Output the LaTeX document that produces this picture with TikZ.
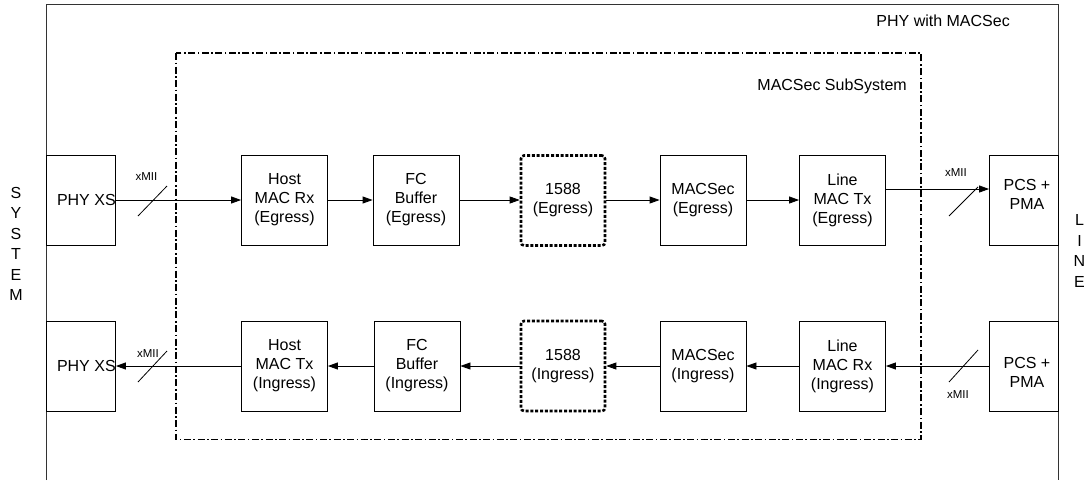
\documentclass[tikz,border=0pt]{standalone}
\usepackage{fontspec}
\setmainfont{Liberation Sans}
\usetikzlibrary{arrows.meta}
\begin{document}
\begin{tikzpicture}[x=1pt,y=-1pt,
  every node/.style={font=\fontsize{16}{19}\selectfont, inner sep=0pt, align=center},
  blk/.style={draw=black, line width=0.8pt, minimum width=86pt, minimum height=90pt},
  edgebox/.style={draw=black, line width=0.8pt, minimum width=69pt, minimum height=90pt},
  tsbox/.style={draw=black, line width=2.6pt, dash pattern=on 3pt off 1.8pt, rounded corners=3pt, minimum width=84pt, minimum height=90pt},
  conn/.style={line width=0.8pt, -{Triangle[length=10pt,width=7pt]}},
  slash/.style={line width=0.8pt},
  small/.style={font=\fontsize{11.5}{13}\selectfont},
  vert/.style={font=\fontsize{16}{20.4}\selectfont},
  outer/.style={draw=black!80, line width=1pt},
  subsys/.style={draw=black, line width=1.6pt, dash pattern=on 7pt off 2.5pt on 1.6pt off 2.5pt}
]
\useasboundingbox (0,0) rectangle (1086,480);

% outer PHY box
\draw[outer] (46.5,480) -- (46.5,4) -- (1058.5,4) -- (1058.5,480);
\node[anchor=east] (phywm) at (1010,21) {PHY with MACSec};

% MACSec subsystem
\draw[subsys] (176,53) rectangle (921,439.5);
\node[anchor=east] (subsysl) at (907,86) {MACSec SubSystem};

% side labels
\node[vert] (sys) at (16,244) {S\\Y\\S\\T\\E\\M};
\node[vert] (lne) at (1079.5,251) {L\\I\\N\\E};

% upper row (egress)
\node[edgebox] (phyA) at (81,200) {};
\node[anchor=east] (phyAt) at (phyA.east) {PHY XS};
\node[blk] (hostA) at (284.5,200) {Host\\MAC Rx\\(Egress)};
\node[blk] (fcA) at (416,200) {FC\\Buffer\\(Egress)};
\node[tsbox] (tsA) at (563,200.5) {1588\\(Egress)};
\node[blk] (macA) at (703,200) {MACSec\\(Egress)};
\node[blk] (lineA) at (842.5,200) {Line\\MAC Tx\\(Egress)};
\node[edgebox] (pcsA) at (1024,200) {};
\node (pcsAt) at (1027,194) {PCS +\\PMA};

% lower row (ingress)
\node[edgebox] (phyB) at (81,366) {};
\node[anchor=east] (phyBt) at (phyB.east) {PHY XS};
\node[blk] (hostB) at (284.5,366) {Host\\MAC Tx\\(Ingress)};
\node[blk] (fcB) at (417,366) {FC\\Buffer\\(Ingress)};
\node[tsbox] (tsB) at (563,366) {1588\\(Ingress)};
\node[blk] (macB) at (703,366) {MACSec\\(Ingress)};
\node[blk] (lineB) at (842.5,366) {Line\\MAC Rx\\(Ingress)};
\node[edgebox] (pcsB) at (1024,366) {};
\node (pcsBt) at (1027,372) {PCS +\\PMA};

% egress connectors
\draw[conn] (phyA.east) -- (hostA.west);
\draw[conn] (hostA) -- (fcA);
\draw[conn] (fcA) -- (tsA.west |- fcA);
\draw[conn] (tsA.east |- macA) -- (macA);
\draw[conn] (macA) -- (lineA);
\coordinate (lineAout) at ([yshift=11pt]lineA.east);
\draw[conn] (lineAout) -- (lineAout -| pcsA.west);

% ingress connectors
\draw[conn] (pcsB.west) -- (lineB.east);
\draw[conn] (lineB) -- (macB);
\draw[conn] (macB) -- (tsB);
\draw[conn] (tsB) -- (fcB);
\draw[conn] (fcB) -- (hostB);
\draw[conn] (hostB.west) -- (phyB.east);

% xMII slashes and labels
\coordinate (s1a) at (138,216); \coordinate (s1b) at (167,186);
\draw[slash] (s1a) -- (s1b);
\node[small] (x1) at (146.5,177) {xMII};
\coordinate (s2a) at (949,216); \coordinate (s2b) at (978,187);
\draw[slash] (s2a) -- (s2b);
\node[small] (x2) at (956,173) {xMII};
\coordinate (s3a) at (138,382); \coordinate (s3b) at (167,351);
\draw[slash] (s3a) -- (s3b);
\node[small] (x3) at (148,354) {xMII};
\coordinate (s4a) at (949,382); \coordinate (s4b) at (978,350);
\draw[slash] (s4a) -- (s4b);
\node[small] (x4) at (958,395) {xMII};
\end{tikzpicture}
\end{document}
